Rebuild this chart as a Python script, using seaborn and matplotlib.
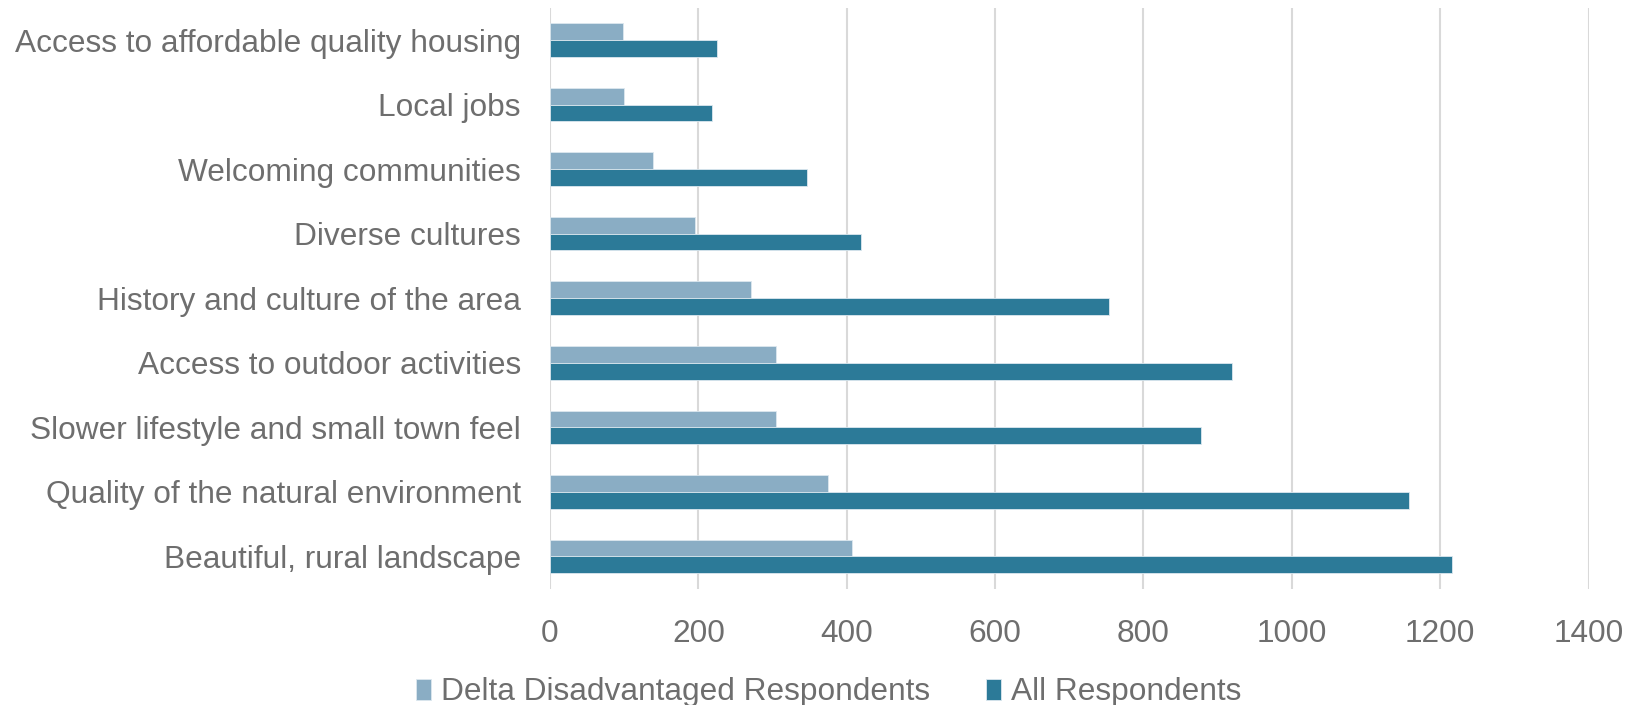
import matplotlib
matplotlib.use("Agg")
import matplotlib.pyplot as plt
import seaborn as sns
import pandas as pd

categories = [
    "Access to affordable quality housing",
    "Local jobs",
    "Welcoming communities",
    "Diverse cultures",
    "History and culture of the area",
    "Access to outdoor activities",
    "Slower lifestyle and small town feel",
    "Quality of the natural environment",
    "Beautiful, rural landscape",
]
delta_disadvantaged = [98, 100, 139, 195, 271, 304, 304, 375, 407]
all_respondents = [225, 219, 346, 419, 753, 919, 878, 1158, 1216]
series_names = ["Delta Disadvantaged Respondents", "All Respondents"]
x_ticks = [0, 200, 400, 600, 800, 1000, 1200, 1400]

df = pd.DataFrame({
    "category": categories * 2,
    "value": delta_disadvantaged + all_respondents,
    "series": [series_names[0]] * len(categories) + [series_names[1]] * len(categories),
})

sns.set_theme(style="white")
plt.rcParams["font.family"] = ["Liberation Sans", "DejaVu Sans"]
text_grey = "#6E6E6E"
palette = {series_names[0]: "#8AADC4", series_names[1]: "#2C7A98"}
font_size = 22.8

fig = plt.figure(figsize=(16.34, 7.05), dpi=100)
ax = fig.add_axes([0.3366, 0.165, 0.6356, 0.824])

sns.barplot(data=df, y="category", x="value", hue="series", order=categories,
            hue_order=series_names, palette=palette, width=0.52, orient="h",
            edgecolor="#DCE8EF", linewidth=0.6, saturation=1, ax=ax, zorder=3)

ax.set_xlim(0, 1400)
ax.set_ylim(len(categories) - 0.5, -0.5)
ax.set_xticks(x_ticks)
ax.set_xticklabels([str(t) for t in x_ticks])
ax.xaxis.grid(True, color="#D9D9D9", linewidth=1.5, zorder=0)
ax.yaxis.grid(False)
ax.set_axisbelow(True)
for s in ax.spines.values():
    s.set_visible(False)
ax.set_xlabel("")
ax.set_ylabel("")
ax.tick_params(axis="x", length=0, pad=22, labelsize=font_size, labelcolor=text_grey)
ax.tick_params(axis="y", length=0, pad=21, labelsize=font_size, labelcolor=text_grey)

ax.legend_.remove()
handles, labels = ax.get_legend_handles_labels()
fig.legend(handles, labels, loc="center", bbox_to_anchor=(0.507, 0.018), ncol=2,
           frameon=False, fontsize=font_size, labelcolor=text_grey, handlelength=0.5,
           handleheight=0.65, handletextpad=0.3, columnspacing=1.75)

fig.savefig("out.png", dpi=100)
